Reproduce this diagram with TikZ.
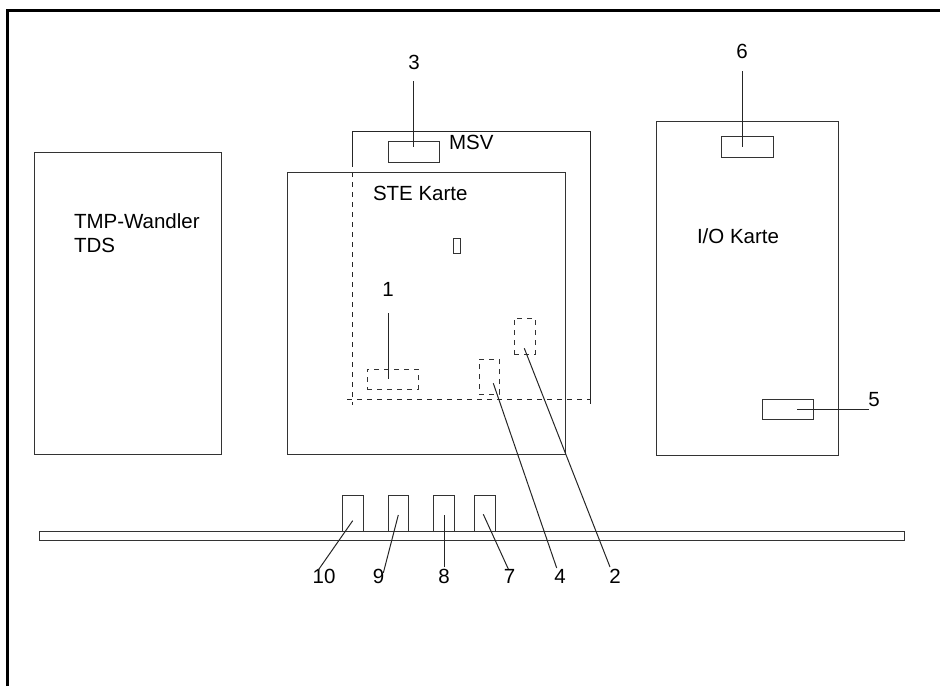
\documentclass[tikz,border=0pt]{standalone}
\usepackage{fontspec}
\setmainfont{Liberation Sans}
\begin{document}
\begin{tikzpicture}[x=1pt,y=-1pt,
  font=\fontsize{20.5}{24}\selectfont,
  box/.style={draw=black!80, line width=1pt, inner sep=0pt, outer sep=0pt},
  dbox/.style={box, dash pattern=on 5pt off 5pt},
  lab/.style={inner sep=0pt, outer sep=0pt},
  lead/.style={draw=black!85, line width=1pt},
  hid/.style={draw=black!85, line width=1pt, dash pattern=on 5pt off 5pt}]
\useasboundingbox (0,0) rectangle (940,686);
% outer frame
\draw[line width=3pt] (7.5,686) -- (7.5,10.5) -- (940,10.5);
% main boards
\node[box, minimum width=187pt, minimum height=302pt] (tmp) at (127.5,303) {};
\node[lab, anchor=north west, align=left] (tmptxt) at (74,214) {TMP-Wandler\\TDS};
% MSV outline (partly hidden)
\coordinate (msvA) at (352,162);
\coordinate (msvB) at (352,131);
\coordinate (msvC) at (590,131);
\coordinate (msvD) at (590,404);
\coordinate (msvE) at (352,405);
\coordinate (msvF) at (347,399);
\coordinate (msvG) at (590,399);
\draw[lead] (msvA) -- (msvB) -- (msvC) -- (msvD);
\draw[hid] (msvA) -- (msvE);
\draw[hid] (msvF) -- (msvG);
\node[box, fill=none, minimum width=278pt, minimum height=282pt] (ste) at (426,313) {};
\node[lab, anchor=base west] (stetxt) at (373,200.7) {STE Karte};
\node[box, line width=0.8pt, minimum width=7pt, minimum height=15pt] (glyph) at (456.5,245.5) {};
\node[box, minimum width=51pt, minimum height=21pt] (msv) at (413.5,151.5) {};
\node[lab, anchor=base west] (msvtxt) at (449,149) {MSV};
\node[box, minimum width=182pt, minimum height=334pt] (io) at (747,288) {};
\node[lab, anchor=base west] (iotxt) at (697,243.3) {I/O Karte};
\node[box, minimum width=52pt, minimum height=21pt] (r6) at (747,146.5) {};
\node[box, minimum width=51pt, minimum height=20pt] (r5) at (787.5,409) {};
% hidden parts
\node[dbox, minimum width=51pt, minimum height=20pt] (d1) at (392.5,379) {};
\node[dbox, minimum width=20pt, minimum height=35pt] (d4) at (489,376.5) {};
\node[dbox, minimum width=21pt, minimum height=36pt] (d2) at (524.5,336) {};
% rail and connectors
\node[box, minimum width=865pt, minimum height=9pt] (rail) at (471.5,535.5) {};
\node[box, minimum width=21pt, minimum height=36pt] (c10) at (352.5,513) {};
\node[box, minimum width=20pt, minimum height=36pt] (c9) at (398,513) {};
\node[box, minimum width=21pt, minimum height=36pt] (c8) at (443.5,513) {};
\node[box, minimum width=21pt, minimum height=36pt] (c7) at (484.5,513) {};
% number labels
\node[lab] (n3) at (414,62) {3};
\node[lab] (n6) at (742,51.5) {6};
\node[lab] (n1) at (388,289) {1};
\node[lab] (n5) at (874,400) {5};
\node[lab] (n10) at (324,576) {10};
\node[lab] (n9) at (378.5,576) {9};
\node[lab] (n8) at (444,576) {8};
\node[lab] (n7) at (509.5,576) {7};
\node[lab] (n4) at (560,576) {4};
\node[lab] (n2) at (615,576) {2};
% leader end points
\coordinate (a3) at (413.5,81);  \coordinate (b3) at (413.5,147);
\coordinate (a6) at (742,71);    \coordinate (b6) at (742,147);
\coordinate (a1) at (388,313);   \coordinate (b1) at (388,379);
\coordinate (a5) at (869,409);   \coordinate (b5) at (797,409);
\coordinate (a10) at (318.3,570); \coordinate (b10) at (352.7,520.7);
\coordinate (a9) at (383.3,573);  \coordinate (b9) at (398.3,515);
\coordinate (a8) at (444,567);    \coordinate (b8) at (444,515);
\coordinate (a7) at (508.3,569);  \coordinate (b7) at (483.3,514.3);
\coordinate (a4) at (556.7,568);  \coordinate (b4) at (493.3,383.3);
\coordinate (a2) at (610,567);    \coordinate (b2) at (524.3,348.3);
\foreach \k in {3,6,1,5,10,9,8,7,4,2} {\draw[lead] (a\k) -- (b\k);}
\end{tikzpicture}
\end{document}
